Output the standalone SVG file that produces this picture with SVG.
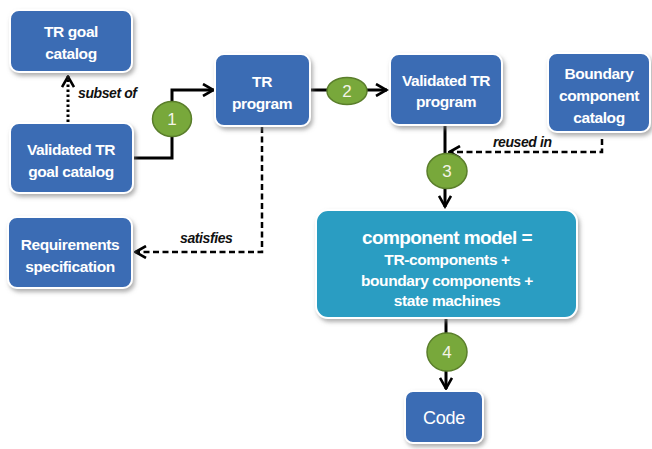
<svg xmlns="http://www.w3.org/2000/svg" width="652" height="449" viewBox="0 0 652 449">
  <style>
    .box { fill: #3b6cb4; stroke: #ffffff; stroke-width: 2; filter: url(#shadow); }
    .model { fill: #2b9dc2; stroke: #ffffff; stroke-width: 2; filter: url(#shadow); }
    .lbl { font-family: "Liberation Sans", Arial, sans-serif; font-size: 15.5px; font-weight: bold; fill: #ffffff; text-anchor: middle; letter-spacing: -0.4px; }
    .big { font-size: 19px; letter-spacing: -0.6px; }
    .code { font-size: 18px; font-weight: normal; letter-spacing: -0.3px; }
    .step { fill: #78a83b; stroke: #5a7e2b; stroke-width: 1.5; }
    .num { font-family: "Liberation Sans", Arial, sans-serif; font-size: 17px; fill: #f4f4e8; text-anchor: middle; }
    .rel { font-family: "Liberation Sans", Arial, sans-serif; font-size: 14px; font-weight: bold; font-style: italic; fill: #111111; letter-spacing: -0.4px; }
    .solid { fill: none; stroke: #000000; stroke-width: 3; }
    .dash { fill: none; stroke: #000000; stroke-width: 2.5; stroke-dasharray: 6 3.5; }
    .dot { fill: none; stroke: #000000; stroke-width: 3; stroke-dasharray: 2.5 2.5; }
  </style>
  <defs>
    <filter id="shadow" x="-10%" y="-10%" width="130%" height="140%">
      <feDropShadow dx="2" dy="3" stdDeviation="2" flood-color="#7a7a7a" flood-opacity="0.6"/>
    </filter>
    <marker id="arrow" viewBox="0 0 14 14" refX="12.5" refY="7" markerWidth="14" markerHeight="14" markerUnits="userSpaceOnUse" orient="auto">
      <path d="M1.5,1 L12,7 L1.5,13" fill="none" stroke="#000000" stroke-width="2.6"/>
    </marker>
  </defs>

  <rect width="652" height="449" fill="#ffffff"/>

  <!-- connectors -->
  <g id="connectors">
    <path class="dot" d="M68,122 V76" marker-end="url(#arrow)"/>
    <text class="rel" x="78" y="98">subset of</text>

    <path class="solid" d="M133,158 H172 V90 H214" marker-end="url(#arrow)"/>
    <path class="solid" d="M310,90 H387" marker-end="url(#arrow)"/>

    <path class="dash" d="M262,127 V252 H135" marker-end="url(#arrow)"/>
    <text class="rel" x="180" y="243">satisfies</text>

    <path class="dash" d="M602,139 V152 H449" marker-end="url(#arrow)"/>
    <text class="rel" x="493" y="147">reused in</text>

    <path class="solid" d="M445,126 V207" marker-end="url(#arrow)"/>
    <path class="solid" d="M446,319 V389" marker-end="url(#arrow)"/>

    <g id="step1"><ellipse class="step" cx="172" cy="119" rx="19.5" ry="17.5"/><text class="num" x="172" y="125">1</text></g>
    <g id="step2"><ellipse class="step" cx="347" cy="91" rx="20" ry="13.5"/><text class="num" x="347" y="97">2</text></g>
    <g id="step3"><ellipse class="step" cx="447" cy="171" rx="20" ry="17.5"/><text class="num" x="447" y="177">3</text></g>
    <g id="step4"><ellipse class="step" cx="447" cy="352" rx="20" ry="19"/><text class="num" x="447" y="358">4</text></g>
  </g>

  <g id="tr-goal-catalog">
    <rect class="box" x="10" y="10" width="122" height="62" rx="9"/>
    <text class="lbl" x="71" y="37">TR goal</text>
    <text class="lbl" x="71" y="59">catalog</text>
  </g>

  <g id="validated-tr-goal-catalog">
    <rect class="box" x="10" y="123" width="123" height="70" rx="9"/>
    <text class="lbl" x="71" y="155">Validated TR</text>
    <text class="lbl" x="71" y="177">goal catalog</text>
  </g>

  <g id="tr-program">
    <rect class="box" x="215" y="54" width="95" height="72" rx="9"/>
    <text class="lbl" x="262" y="87">TR</text>
    <text class="lbl" x="262" y="109">program</text>
  </g>

  <g id="validated-tr-program">
    <rect class="box" x="390" y="54" width="112" height="71" rx="9"/>
    <text class="lbl" x="446" y="86">Validated TR</text>
    <text class="lbl" x="446" y="107">program</text>
  </g>

  <g id="boundary-component-catalog">
    <rect class="box" x="548" y="53" width="102" height="79" rx="9"/>
    <text class="lbl" x="599" y="79">Boundary</text>
    <text class="lbl" x="599" y="101">component</text>
    <text class="lbl" x="599" y="123">catalog</text>
  </g>

  <g id="requirements-specification">
    <rect class="box" x="8" y="217" width="124" height="71" rx="9"/>
    <text class="lbl" x="70" y="250">Requirements</text>
    <text class="lbl" x="70" y="272">specification</text>
  </g>

  <g id="component-model">
    <rect class="model" x="316" y="210" width="261" height="108" rx="12"/>
    <text class="lbl big" x="447" y="244">component model =</text>
    <text class="lbl" x="447" y="265">TR-components +</text>
    <text class="lbl" x="447" y="286">boundary components +</text>
    <text class="lbl" x="447" y="306">state machines</text>
  </g>

  <g id="code">
    <rect class="box" x="405" y="391" width="78" height="52" rx="8"/>
    <text class="lbl code" x="444" y="424">Code</text>
  </g>
</svg>
